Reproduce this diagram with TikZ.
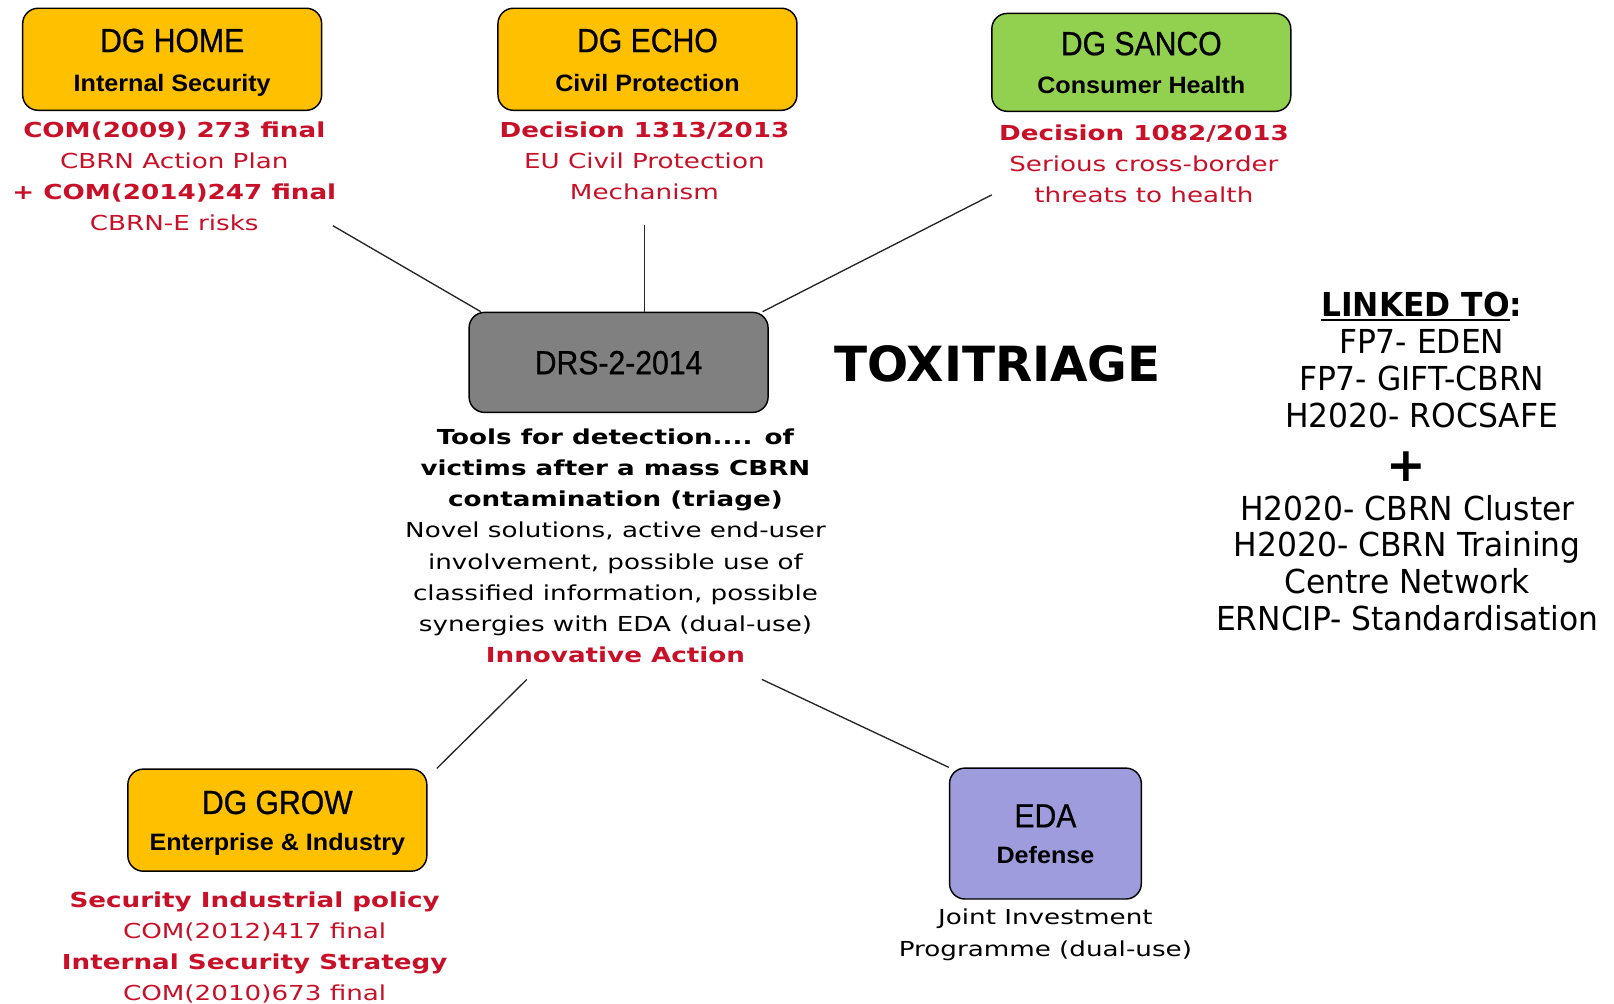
\documentclass[tikz,border=0pt]{standalone}
\usepackage{fontspec}
\newfontfamily\vfont[FakeStretch=1.27]{DejaVu Sans}
\newfontfamily\lfont[FakeStretch=0.95]{DejaVu Sans}
\newfontfamily\tfont[FakeStretch=0.9, FakeBold=0.7]{Liberation Sans}
\newfontfamily\sfont[FakeStretch=1.06]{Liberation Sans}
\newfontfamily\xfont{DejaVu Sans}
\definecolor{boxorange}{RGB}{255,192,0}
\definecolor{boxgreen}{RGB}{146,208,80}
\definecolor{boxgray}{RGB}{128,128,128}
\definecolor{boxlav}{RGB}{158,156,220}
\definecolor{redtxt}{RGB}{200,16,40}
\newcommand\myul[1]{\setbox0\hbox{#1}\rlap{\rule[-3.5pt]{\wd0}{2pt}}\box0}
\begin{document}
\begin{tikzpicture}[x=1pt,y=-1pt,
  box/.style={draw=black, line width=1.4pt, rounded corners=15pt, inner sep=0pt,
              minimum width=290pt, minimum height=99pt},
  titletext/.style={font=\tfont\fontsize{32.5}{39}\selectfont, anchor=base, inner sep=0pt},
  subtext/.style={font=\sfont\bfseries\fontsize{23}{28}\selectfont, anchor=base, inner sep=0pt},
  desc/.style={font=\vfont\fontsize{20}{30.2}\selectfont, align=center, inner sep=0pt, anchor=north},
  linkedtext/.style={font=\lfont\fontsize{32}{35.6}\selectfont, align=center, inner sep=0pt, anchor=north},
  conn/.style={draw=black!85, line width=1.3pt}]
\fill[white] (0,0) rectangle (1565.5,973);
\useasboundingbox (0,0) rectangle (1565.5,973);

% DG HOME
\node[box, fill=boxorange] (home) at (167,57.5) {};
\node[titletext] (hometitle) at ([yshift=7pt]home.center) {DG HOME};
\node[subtext] (homesub) at ([yshift=-31.5pt]home.center) {Internal Security};
\node[desc, text=redtxt] (homedesc) at (169,118) {\textbf{COM(2009) 273 final}\\CBRN Action Plan\\\textbf{+ COM(2014)247 final}\\CBRN-E risks};

% DG ECHO
\node[box, fill=boxorange] (echo) at (628,57.5) {};
\node[titletext] (echotitle) at ([yshift=7pt]echo.center) {DG ECHO};
\node[subtext] (echosub) at ([yshift=-31.5pt]echo.center) {Civil Protection};
\node[desc, text=redtxt] (echodesc) at (625,118) {\textbf{Decision 1313/2013}\\EU Civil Protection\\Mechanism};

% DG SANCO
\node[box, fill=boxgreen, minimum height=95pt] (sanco) at (1107,60.5) {};
\node[titletext] (sancotitle) at ([yshift=7pt]sanco.center) {DG SANCO};
\node[subtext] (sancosub) at ([yshift=-30pt]sanco.center) {Consumer Health};
\node[desc, text=redtxt] (sancodesc) at (1109.5,121) {\textbf{Decision 1082/2013}\\Serious cross-border\\threats to health};

% DRS
\node[box, fill=boxgray, minimum height=97pt] (drs) at (600,351.5) {};
\node[titletext] (drstitle) at ([yshift=-11.5pt]drs.center) {DRS-2-2014};
\node[desc, text=black] (drsdesc) at (597,415.8) {\textbf{Tools for detection.... of}\\\textbf{victims after a mass CBRN}\\\textbf{contamination (triage)}\\Novel solutions, active end-user\\involvement, possible use of\\classified information, possible\\synergies with EDA (dual-use)\\\textcolor{redtxt}{\textbf{Innovative Action}}};

% TOXITRIAGE
\node[font=\xfont\bfseries\fontsize{47}{56}\selectfont, anchor=base, inner sep=0pt] (toxi) at (967.5,370) {TOXITRIAGE};

% LINKED TO
\node[linkedtext] (linked) at (1379,283.5) {\textbf{\myul{LINKED TO}:}\\FP7- EDEN\\FP7- GIFT-CBRN\\H2020- ROCSAFE};
\node[font=\xfont\bfseries\fontsize{46}{50}\selectfont, inner sep=0pt] (plus) at (1364.5,452.7) {+};
\node[linkedtext] (more) at (1365,480) {H2020- CBRN Cluster\\H2020- CBRN Training\\Centre Network\\ERNCIP- Standardisation};

% DG GROW
\node[box, fill=boxorange] (grow) at (269,795.5) {};
\node[titletext] (growtitle) at ([yshift=6pt]grow.center) {DG GROW};
\node[subtext] (growsub) at ([yshift=-29pt]grow.center) {Enterprise \& Industry};
\node[desc, text=redtxt] (growdesc) at (247,864.8) {\textbf{Security Industrial policy}\\COM(2012)417 final\\\textbf{Internal Security Strategy}\\COM(2010)673 final};

% EDA
\node[box, fill=boxlav, minimum width=186pt, minimum height=127pt] (eda) at (1014,808.5) {};
\node[titletext] (edatitle) at ([yshift=6pt]eda.center) {EDA};
\node[subtext] (edasub) at ([yshift=-29.5pt]eda.center) {Defense};
\node[desc, text=black] (edadesc) at (1014,881.8) {Joint Investment\\Programme (dual-use)};

% connector ends
\coordinate (homeend) at (323,219);
\coordinate (echoend) at (625,218);
\coordinate (sancoend) at (962,189);
\coordinate (drsleft) at (511,659);
\coordinate (drsright) at (739,659);

\draw[conn] (homeend) -- ([xshift=12pt]drs.north west);
\draw[conn] (echoend) -- ([xshift=25pt]drs.north);
\draw[conn] (sancoend) -- ([xshift=-6pt]drs.north east);
\draw[conn] (drsleft) -- ([xshift=9pt]grow.north east);
\draw[conn] (drsright) -- (eda.north west);
\end{tikzpicture}
\end{document}
